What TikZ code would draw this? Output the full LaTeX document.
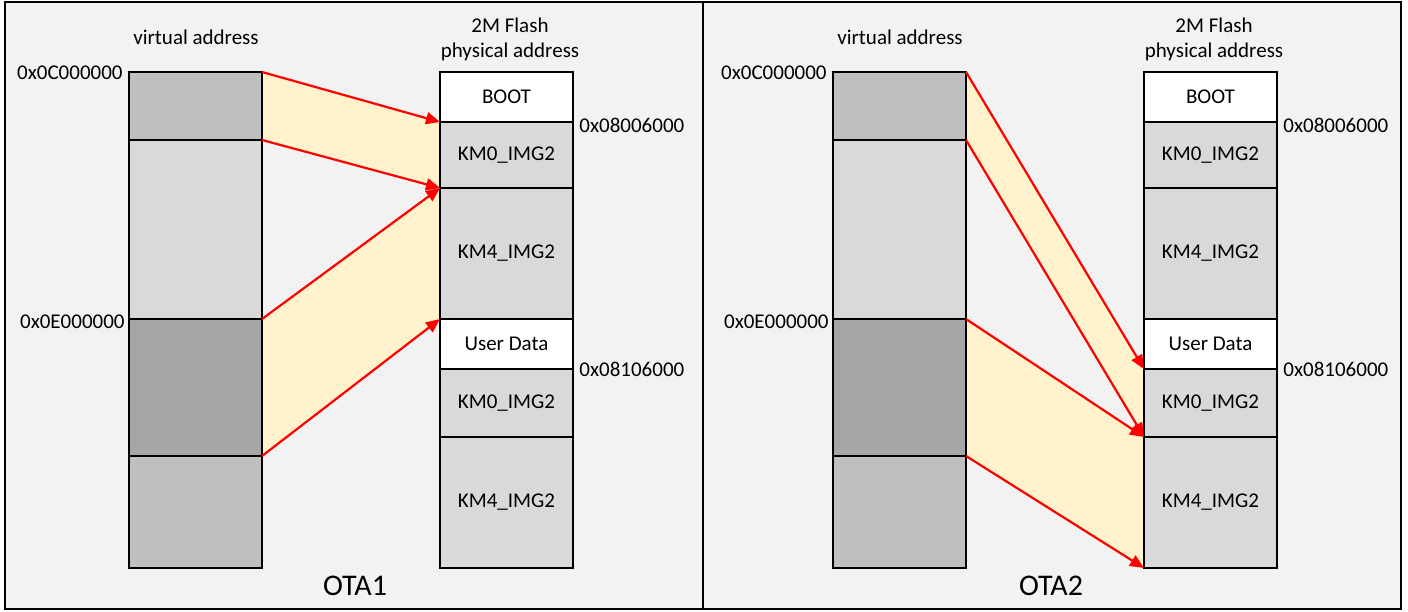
\documentclass[tikz,border=0pt]{standalone}
\usepackage{fontspec}
\setmainfont{Carlito}
\usetikzlibrary{arrows.meta}
\definecolor{PanelGray}{HTML}{F2F2F2}
\definecolor{MapYellow}{HTML}{FFF2CC}
\definecolor{BlkMid}{HTML}{BFBFBF}
\definecolor{BlkLight}{HTML}{D9D9D9}
\definecolor{BlkDark}{HTML}{A6A6A6}
\pgfdeclarelayer{panel}
\pgfdeclarelayer{band}
\pgfsetlayers{panel,band,main}
\tikzset{
  lbl/.style={inner sep=0pt,font=\fontsize{10.5}{12.5}\selectfont},
  blk/.style={lbl,draw=black,line width=0.9pt,minimum width=66.5pt,
    anchor=north west,outer sep=0pt},
  map/.style={draw=red,line width=1.1pt,-{Triangle[length=7pt,width=6pt]}},
  band/.style={fill=MapYellow},
}
\begin{document}
\begin{tikzpicture}[x=0.5pt,y=-0.5pt]
  \useasboundingbox (0,0) rectangle (1408,611);
  % frame of the two panels
  \begin{pgfonlayer}{panel}
    \fill[PanelGray] (5,2) rectangle (1401,609);
    \draw[line width=1pt] (5,2) rectangle (1401,609);
    \draw[line width=1pt] (703,2) -- (703,609);
  \end{pgfonlayer}
  \foreach \p/\dx/\ota/\otax in {L/0/OTA1/355,R/704/OTA2/1051}{
    \begin{scope}[xshift=\dx*0.5pt,name prefix=\p-]
      % virtual address space
      \node[blk,fill=BlkMid,minimum height=34pt] (vtop) at (129,72) {};
      \node[blk,fill=BlkLight,minimum height=89.5pt] (vmid) at (129,140) {};
      \node[blk,fill=BlkDark,minimum height=68.5pt] (vdark) at (129,319) {};
      \node[blk,fill=BlkMid,minimum height=56pt] (vlow) at (129,456) {};
      % flash layout
      \node[blk,fill=white,minimum height=25pt] (boot) at (440,72) {BOOT};
      \node[blk,fill=BlkLight,minimum height=33pt] (km0a) at (440,122) {KM0\_IMG2};
      \node[blk,fill=BlkLight,minimum height=65.5pt] (km4a) at (440,188) {KM4\_IMG2};
      \node[blk,fill=white,minimum height=25pt] (user) at (440,319) {User Data};
      \node[blk,fill=BlkLight,minimum height=34pt] (km0b) at (440,369) {KM0\_IMG2};
      \node[blk,fill=BlkLight,minimum height=65.5pt] (km4b) at (440,437) {KM4\_IMG2};
      % headings and addresses
      \node[lbl] (vhead) at (196,37) {virtual address};
      \node[lbl,align=center] (fhead) at (510,39) {2M Flash\\physical address};
      \node[lbl,anchor=east] (a0c) at (123,73) {0x0C000000};
      \node[lbl,anchor=east] (a0e) at (125,322) {0x0E000000};
      \node[lbl,anchor=west] (a080) at (579,125) {0x08006000};
      \node[lbl,anchor=west] (a081) at (579,369) {0x08106000};
      \node[inner sep=0pt,font=\fontsize{15}{18}\selectfont] (ota) at (\otax-\dx,586) {\ota};
    \end{scope}
  }
  % OTA1 mapping
  \begin{pgfonlayer}{band}
    \fill[band] (L-vtop.north east) -- (L-boot.south west) -- (L-km0a.south west) -- (L-vmid.north east) -- cycle;
    \fill[band] (L-vdark.north east) -- (L-km0a.south west) -- (L-km4a.south west) -- (L-vdark.south east) -- cycle;
  \end{pgfonlayer}
  \draw[map] (L-vtop.north east) -- (L-boot.south west);
  \draw[map] (L-vmid.north east) -- (L-km0a.south west);
  \draw[map] (L-vdark.north east) -- (L-km0a.south west);
  \draw[map] (L-vdark.south east) -- (L-km4a.south west);
  % OTA2 mapping
  \begin{pgfonlayer}{band}
    \fill[band] (R-vtop.north east) -- (R-user.south west) -- (R-km0b.south west) -- (R-vmid.north east) -- cycle;
    \fill[band] (R-vdark.north east) -- (R-km0b.south west) -- (R-km4b.south west) -- (R-vdark.south east) -- cycle;
  \end{pgfonlayer}
  \draw[map] (R-vtop.north east) -- (R-user.south west);
  \draw[map] (R-vmid.north east) -- (R-km0b.south west);
  \draw[map] (R-vdark.north east) -- (R-km0b.south west);
  \draw[map] (R-vdark.south east) -- (R-km4b.south west);
\end{tikzpicture}
\end{document}
